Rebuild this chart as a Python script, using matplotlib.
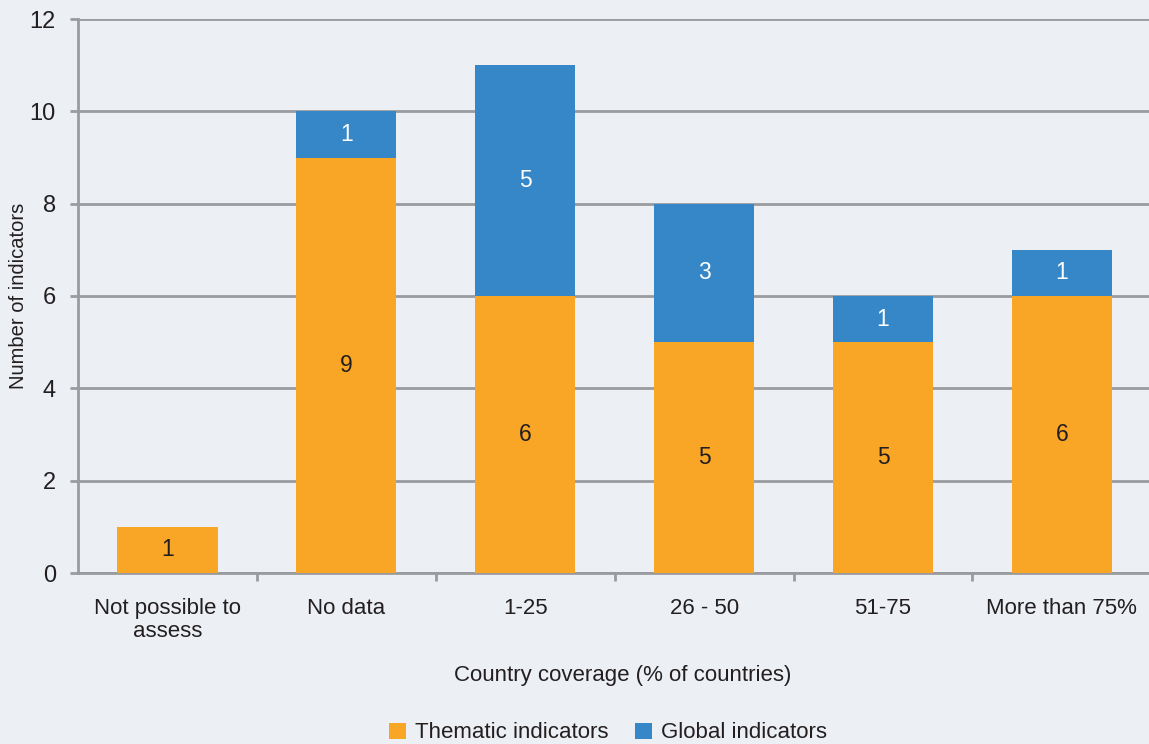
import matplotlib
matplotlib.use("Agg")
import matplotlib.pyplot as plt
from matplotlib.patches import Patch

categories = ["Not possible to\nassess", "No data", "1-25", "26 - 50", "51-75", "More than 75%"]
thematic = [1, 9, 6, 5, 5, 6]
global_ind = [0, 1, 5, 3, 1, 1]
yticks = [0, 2, 4, 6, 8, 10, 12]

plt.rcParams["font.family"] = ["Liberation Sans", "DejaVu Sans"]

BG = "#eceff4"
ORANGE = "#f9a526"
BLUE = "#3587c8"
GRID = "#9a9b9e"
TXT = "#231f20"

fig = plt.figure(figsize=(11.49, 7.44), dpi=100, facecolor=BG)
ax = fig.add_axes([78/1149, 1-573/744, 1-78/1149 + 0.002, (573-19)/744])
ax.set_facecolor(BG)

x = list(range(len(categories)))
w = 0.56
ax.bar(x, thematic, width=w, color=ORANGE, zorder=3)
ax.bar(x, global_ind, width=w, bottom=thematic, color=BLUE, zorder=3)

for i in x:
    ax.text(i, thematic[i] / 2, str(thematic[i]), ha="center", va="center",
            fontsize=16.5, color=TXT, zorder=4)
    if global_ind[i] > 0:
        ax.text(i, thematic[i] + global_ind[i] / 2, str(global_ind[i]), ha="center",
                va="center", fontsize=16.5, color="white", zorder=4)

ax.set_xlim(-0.5, len(categories) - 0.5)
ax.set_ylim(0, 12)
ax.set_yticks(yticks)
ax.set_yticklabels([str(v) for v in yticks], fontsize=17, color=TXT)
ax.yaxis.grid(True, color=GRID, linewidth=2, zorder=1)
ax.set_axisbelow(True)

ax.set_xticks(x)
ax.set_xticklabels(categories, fontsize=16, color=TXT, linespacing=1.15)
ax.set_xticks([i + 0.5 for i in x[:-1]], minor=True)
ax.tick_params(axis="x", which="major", length=0, pad=18)
ax.tick_params(axis="x", which="minor", length=6, width=2, color=GRID, direction="out")
ax.tick_params(axis="y", length=6, width=2, color=GRID, pad=10)

for s in ["top", "right"]:
    ax.spines[s].set_visible(False)
for s in ["left", "bottom"]:
    ax.spines[s].set_color(GRID)
    ax.spines[s].set_linewidth(2)

ax.set_ylabel("Number of indicators", fontsize=14.5, color=TXT)
ax.yaxis.set_label_coords(-50/1071, 0.5)
fig.text(623/1149, 1-675/744, "Country coverage (% of countries)", ha="center", va="center",
         fontsize=16, color=TXT)

handles = [Patch(facecolor=ORANGE, label="Thematic indicators"),
           Patch(facecolor=BLUE, label="Global indicators")]
fig.legend(handles=handles, loc="center", bbox_to_anchor=(608/1149, 1-733/744), ncol=2,
           frameon=False, fontsize=16, handlelength=0.75, handleheight=0.75,
           handletextpad=0.4, columnspacing=1.2, labelcolor=TXT)

fig.savefig("out.png", dpi=100, facecolor=BG)
